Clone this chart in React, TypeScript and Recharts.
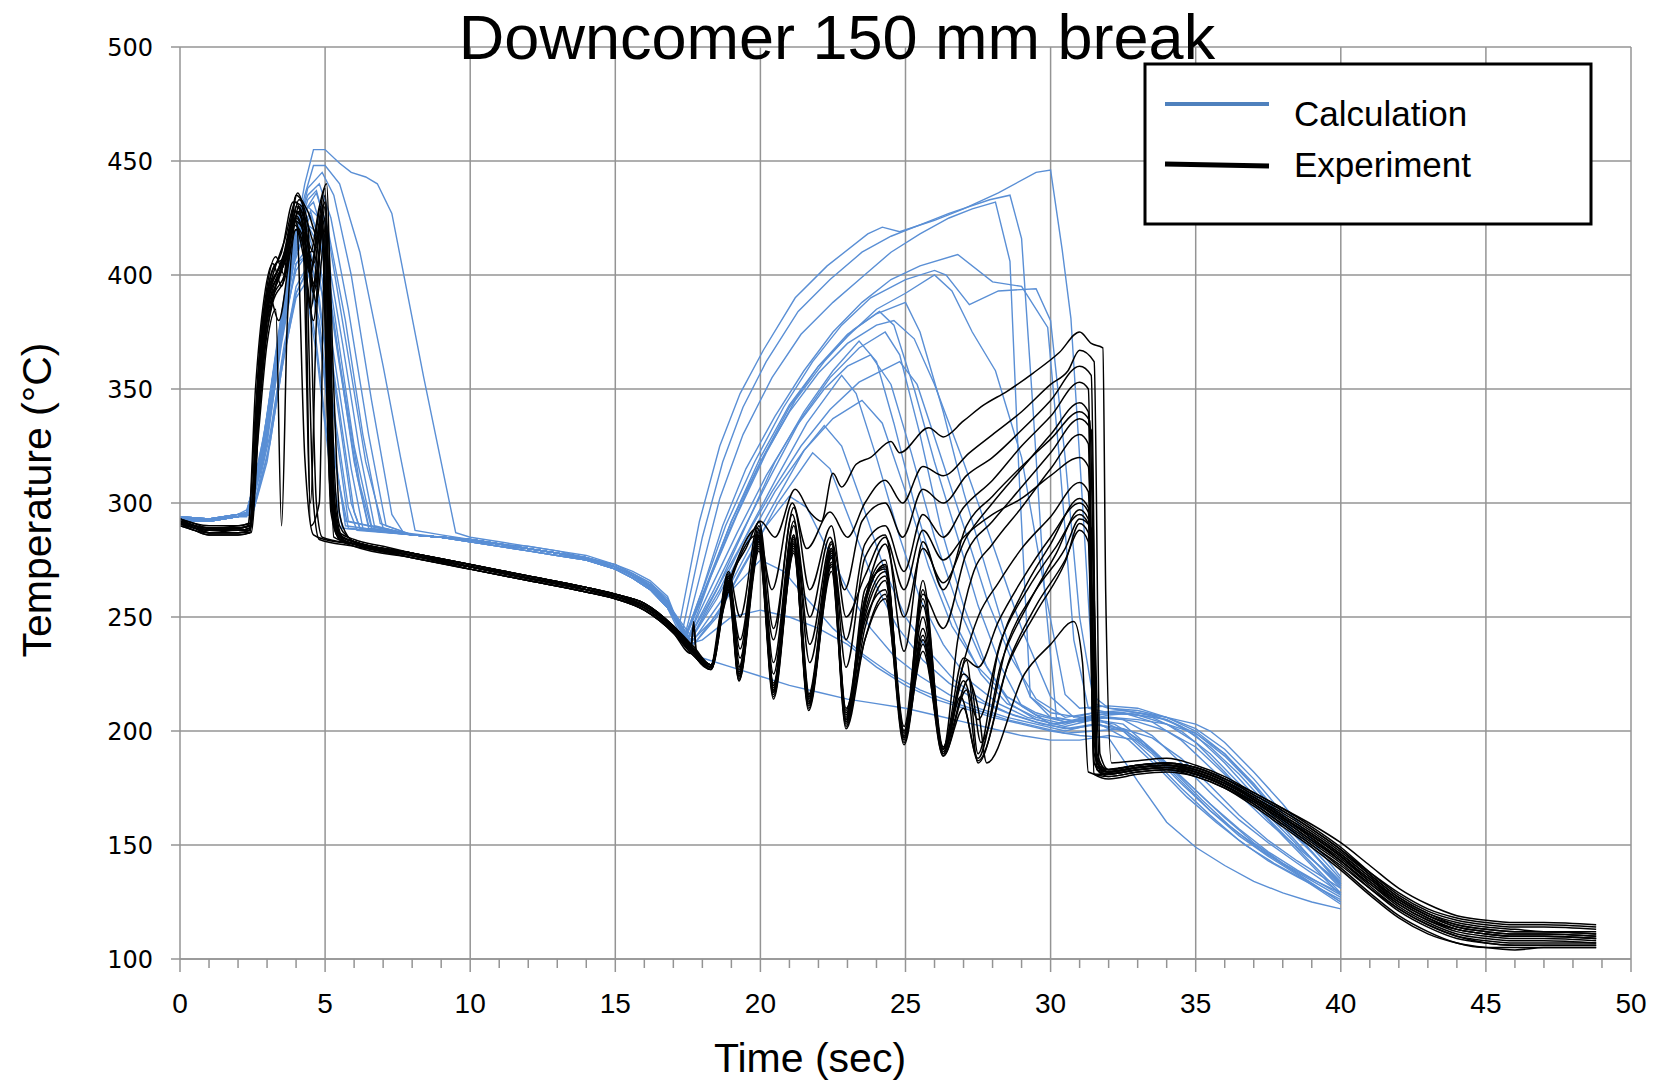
import React from "react";
import { LineChart, Line, XAxis, YAxis, CartesianGrid, ReferenceLine } from "recharts";

type Pt = [number, number];

// ---- Calculation (blue) curves, [time s, temperature °C]
const calc01: Pt[] = [[0,294],[1,293],[2,295],[2.3,297],[2.8,318],[3.3,360],[3.8,405],[4.3,440],[4.6,455],[5,455],[5.5,449],[5.9,445],[6.4,443],[6.8,440],[7.3,427],[8.4,355],[9.5,287],[10,285],[11,283],[12,281],[13,279],[14,277],[15,273],[15.6,270],[16.2,266],[16.8,259],[17.2,246],[17.9,292],[18.6,325],[19.3,348],[20.1,367],[21.2,390],[22.3,404],[23.7,418],[24.2,421],[24.8,419],[26,424],[27,429],[28.2,436],[29.5,445],[30,446],[30.4,411],[30.7,381],[31.1,300],[31.5,215],[32,210],[33,208],[34,206],[35,203],[35.5,200],[36,195],[37,182],[38,168],[39,152],[40,136]];
const calc02: Pt[] = [[0,293],[1,293],[2,294],[2.3,296],[2.8,320],[3.3,365],[3.8,408],[4.3,435],[4.6,448],[5,448],[5.5,440],[6.2,410],[7,360],[7.6,320],[8.1,288],[9,286],[10,284],[11,282],[12,280],[13,278],[14,276],[15,272],[15.6,269],[16.2,265],[16.8,258],[17.3,243],[18,285],[18.7,318],[19.4,342],[20.2,362],[21.3,384],[22.4,398],[23.5,410],[24.5,417],[25.5,422],[26.5,427],[27.9,433],[28.6,435],[29,416],[29.4,340],[29.8,260],[30.2,206],[31,204],[32,206],[33,205],[34,203],[35,199],[36,190],[37,177],[38,162],[39,147],[40,133]];
const calc03: Pt[] = [[0,293],[1,292],[2,294],[2.3,296],[2.9,325],[3.4,370],[3.9,410],[4.4,438],[4.9,445],[5.3,435],[5.9,400],[6.6,345],[7.3,295],[7.7,287],[9,285],[10,284],[11,282],[12,280],[13,278],[14,276],[15,273],[15.6,269],[16.2,264],[16.8,257],[17.4,242],[18,272],[18.6,302],[19.4,330],[20.4,355],[21.4,374],[22.5,388],[23.5,399],[24.5,410],[25.5,418],[26.5,425],[27.3,429],[28.1,432],[28.6,406],[28.9,316],[29.3,215],[30,208],[31,206],[32,206],[33,204],[34,200],[35,193],[36,181],[37,168],[38,155],[39,142],[40,129]];
const calc04: Pt[] = [[0,294],[1,293],[2,295],[2.3,295],[2.9,330],[3.4,375],[3.9,415],[4.4,435],[4.8,440],[5.2,425],[5.8,385],[6.5,330],[7.1,290],[8,286],[9,285],[10,284],[11,282],[12,280],[13,278],[14,276],[15,272],[15.6,268],[16.2,264],[16.8,256],[17.4,241],[18,262],[18.7,290],[19.5,315],[20.5,338],[21.5,358],[22.5,375],[23.5,388],[24.5,398],[25.5,404],[26.8,409],[28,397],[29,395],[29.9,377],[30.3,320],[30.8,240],[31.3,210],[32,208],[33,207],[34,205],[35,199],[36,189],[37,176],[38,161],[39,147],[40,133]];
const calc05: Pt[] = [[0,293],[1,293],[2,294],[2.3,295],[2.8,315],[3.3,355],[3.8,400],[4.3,428],[4.7,436],[5.1,420],[5.7,380],[6.3,330],[6.9,291],[8,286],[9,285],[10,284],[11,282],[12,281],[13,279],[14,276],[15,273],[15.6,269],[16.2,265],[16.8,257],[17.4,241],[18.1,265],[18.8,290],[19.8,318],[20.8,342],[21.8,362],[22.8,378],[23.8,390],[25,398],[26,402],[26.4,400],[27.2,387],[28.2,393],[29.5,394],[30,380],[30.5,320],[31,250],[31.5,212],[32,210],[33,209],[34,206],[35,201],[36,192],[37,179],[38,164],[39,149],[40,135]];
const calc06: Pt[] = [[0,294],[1,292],[2,294],[2.4,295],[2.9,325],[3.4,372],[3.9,412],[4.3,428],[4.6,432],[5,415],[5.6,370],[6.2,322],[6.7,290],[8,286],[9,285],[10,283],[11,282],[12,280],[13,278],[14,275],[15,272],[15.6,268],[16.2,263],[16.8,255],[17.4,240],[18.1,262],[19,292],[20,320],[21,343],[22,360],[23,373],[24,385],[25,392],[26,400],[26.6,393],[27.3,375],[28.1,358],[29,320],[29.8,262],[30.5,216],[31,210],[32,211],[33,210],[34,206],[35,200],[36,190],[37,176],[38,161],[39,147],[40,132]];
const calc07: Pt[] = [[0,293],[1,293],[2,295],[2.4,296],[3,335],[3.5,380],[4,415],[4.5,428],[4.9,410],[5.5,360],[6.1,312],[6.5,289],[8,286],[9,285],[10,284],[11,282],[12,280],[13,278],[14,276],[15,272],[15.6,268],[16.2,264],[16.8,256],[17.4,241],[18.2,265],[19,290],[20,318],[21,342],[22,360],[23,374],[24,383],[25,388],[25.5,375],[26.3,340],[27,305],[27.8,270],[28.5,240],[29.3,215],[30,206],[31,204],[32,207],[33,208],[34,205],[35,198],[36,186],[37,172],[38,158],[39,144],[40,131]];
const calc08: Pt[] = [[0,292],[1,292],[2,294],[2.3,294],[2.9,322],[3.4,368],[3.9,405],[4.3,424],[4.7,415],[5.3,365],[5.9,315],[6.3,289],[8,286],[9,285],[10,283],[11,281],[12,279],[13,277],[14,275],[15,271],[15.6,267],[16.2,262],[16.8,254],[17.5,240],[18.3,268],[19.2,295],[20.2,322],[21.2,345],[22.2,362],[23.2,376],[24.1,384],[24.6,378],[25.3,350],[26,318],[26.8,285],[27.5,255],[28.3,228],[29,211],[30,203],[31,205],[32,208],[33,207],[34,203],[35,195],[36,182],[37,168],[38,154],[39,141],[40,128]];
const calc09: Pt[] = [[0,293],[1,292],[2,294],[2.4,295],[3,330],[3.5,375],[4,410],[4.4,420],[4.8,400],[5.4,345],[5.9,300],[6.2,289],[8,286],[9,285],[10,284],[11,282],[12,280],[13,278],[14,275],[15,272],[15.6,268],[16.2,263],[16.8,255],[17.5,240],[18.4,262],[19.4,288],[20.4,313],[21.4,337],[22.4,355],[23.4,368],[24.3,375],[24.8,365],[25.5,330],[26.2,290],[27,255],[27.8,228],[28.6,212],[29.5,205],[30.5,202],[31.5,205],[32.5,203],[33.5,192],[34.5,180],[35.5,168],[36.5,157],[37.5,147],[38.5,139],[40,128]];
const calc10: Pt[] = [[0,294],[1,293],[2,295],[2.4,296],[3,338],[3.5,382],[4,410],[4.3,416],[4.7,395],[5.2,350],[5.8,298],[6.1,288],[8,286],[9,285],[10,284],[11,282],[12,280],[13,278],[14,276],[15,272],[15.6,268],[16.2,263],[16.8,256],[17.6,240],[18.5,262],[19.5,290],[20.5,318],[21.5,340],[22.5,358],[23.4,371],[24,362],[24.6,335],[25.3,300],[26,270],[26.8,245],[27.6,225],[28.5,212],[29.5,206],[30.5,203],[31.5,206],[32.5,200],[33.5,188],[34.5,175],[35.5,163],[36.5,152],[37.5,143],[38.5,136],[40,126]];
const calc11: Pt[] = [[0,293],[1,292],[2,294],[2.4,295],[2.9,320],[3.5,370],[4,405],[4.4,412],[4.8,390],[5.3,338],[5.8,292],[8,286],[9,285],[10,283],[11,281],[12,279],[13,277],[14,275],[15,271],[15.6,267],[16.2,262],[16.8,254],[17.6,240],[18.6,262],[19.6,288],[20.6,312],[21.6,335],[22.8,356],[23.3,348],[24,320],[24.8,285],[25.5,258],[26.3,238],[27.2,222],[28.2,212],[29.2,206],[30.2,203],[31.2,205],[32.2,203],[33.2,195],[34.2,183],[35.2,170],[36.2,158],[37.2,148],[38.2,140],[40,125]];
const calc12: Pt[] = [[0,294],[1,293],[2,295],[2.4,296],[3,330],[3.5,375],[4,402],[4.3,408],[4.7,385],[5.2,330],[5.7,292],[8,286],[9,285],[10,284],[11,282],[12,280],[13,278],[14,276],[15,272],[15.6,268],[16.2,264],[16.8,256],[17.7,240],[18.7,258],[19.7,282],[20.7,305],[21.5,323],[22.2,334],[22.8,325],[23.5,300],[24.3,270],[25,250],[25.8,235],[26.7,222],[27.7,213],[28.7,207],[29.7,203],[30.7,201],[31.7,203],[32.7,196],[33.7,184],[34.7,171],[35.7,160],[36.7,150],[37.7,142],[38.7,135],[40,124]];
const calc13: Pt[] = [[0,293],[1,292],[2,294],[2.5,295],[3,320],[3.5,360],[4,395],[4.4,404],[4.8,375],[5.3,320],[5.8,289],[8,286],[9,285],[10,283],[11,281],[12,280],[13,278],[14,275],[15,271],[15.6,267],[16.2,262],[16.8,254],[17.7,238],[18.5,250],[19.3,270],[20.2,290],[21,303],[21.6,298],[22.3,280],[23,262],[23.8,245],[24.6,233],[25.5,224],[26.5,216],[27.5,210],[28.5,206],[29.5,203],[30.5,200],[31.5,203],[32.5,200],[33.5,190],[34.5,177],[35.5,165],[36.5,155],[37.5,146],[38.5,138],[40,127]];
const calc14: Pt[] = [[0,294],[1,293],[2,295],[2.5,296],[3.1,330],[3.6,370],[4,392],[4.3,400],[4.7,370],[5.2,315],[5.6,289],[8,286],[9,285],[10,284],[11,282],[12,280],[13,278],[14,276],[15,272],[15.6,268],[16.2,263],[16.8,255],[17.5,238],[18,240],[18.5,245],[19,250],[20,253],[21,250],[22,245],[23,238],[24,228],[25,220],[26,214],[27,210],[28,206],[29,203],[30,200],[31,198],[32,197],[33,178],[34,160],[35,149],[36,141],[37,134],[38,129],[39,125],[40,122]];
const calc15: Pt[] = [[0,293],[1,292],[2,294],[2.4,296],[3,326],[3.5,372],[4,405],[4.5,410],[4.9,392],[5.5,340],[6,296],[6.2,289],[8,286],[9,285],[10,283],[11,281],[12,279],[13,277],[14,275],[15,271],[15.6,267],[16.2,262],[16.8,254],[17.4,238],[18,232],[19,228],[20,224],[21,220],[22,217],[23,214],[24,212],[25,210],[26,207],[27,204],[28,201],[29,198],[30,196],[31,196],[32,198],[33,196],[34,186],[35,174],[36,162],[37,151],[38,142],[39,135],[40,129]];
const calc16: Pt[] = [[0,294],[1,293],[2,294],[2.3,296],[2.8,322],[3.4,372],[3.9,410],[4.4,430],[4.8,425],[5.3,385],[6,325],[6.6,290],[8,286],[9,285],[10,284],[11,282],[12,280],[13,278],[14,276],[15,272],[15.6,268],[16.2,264],[16.8,256],[17.5,241],[18.3,263],[19.2,287],[20.2,312],[21.2,333],[22.2,350],[23,360],[23.8,365],[24.5,352],[25.2,322],[26,285],[26.8,255],[27.6,232],[28.5,215],[29.5,207],[30.5,204],[31.5,207],[32.5,208],[33.5,206],[34.5,200],[35.5,190],[36.5,177],[37.5,163],[38.5,150],[40,132]];
const calc17: Pt[] = [[0,293],[1,292],[2,294],[2.4,295],[2.9,328],[3.4,373],[3.9,411],[4.4,433],[4.7,437],[5.1,418],[5.7,372],[6.4,318],[7,289],[8,286],[9,285],[10,284],[11,282],[12,280],[13,278],[14,276],[15,272],[15.6,268],[16.2,264],[16.8,256],[17.4,241],[18.2,266],[19,292],[20,318],[21,340],[22,357],[23,370],[24,378],[24.6,380],[25.3,372],[26,352],[27,318],[28,282],[29,245],[30,215],[30.8,206],[31.5,208],[32.5,209],[33.5,207],[34.5,202],[35.5,193],[36.5,181],[37.5,167],[38.5,153],[40,134]];
const calc18: Pt[] = [[0,293],[1,293],[2,294],[2.4,295],[2.9,323],[3.4,366],[3.9,404],[4.4,422],[4.8,418],[5.4,370],[6,318],[6.5,290],[8,286],[9,285],[10,284],[11,282],[12,280],[13,278],[14,276],[15,272],[15.6,268],[16.2,263],[16.8,255],[17.6,240],[18.5,258],[19.5,282],[20.5,305],[21.5,323],[22.5,337],[23.5,345],[24.2,335],[25,305],[25.8,272],[26.6,246],[27.5,228],[28.5,215],[29.5,208],[30.5,204],[31.5,206],[32.5,205],[33.5,198],[34.5,186],[35.5,173],[36.5,161],[37.5,151],[38.5,142],[40,129]];
const calc19: Pt[] = [[0,294],[1,292],[2,294],[2.4,296],[3,332],[3.5,377],[4,413],[4.5,426],[4.9,415],[5.5,362],[6.2,308],[6.6,289],[8,286],[9,285],[10,284],[11,282],[12,280],[13,278],[14,275],[15,272],[15.6,268],[16.2,263],[16.8,255],[17.5,240],[18.4,260],[19.4,283],[20.4,305],[21.4,325],[22.4,341],[23.4,353],[24.8,362],[25.4,352],[26.1,325],[27,290],[27.8,258],[28.6,233],[29.5,214],[30.5,206],[31.5,208],[32.5,208],[33.5,204],[34.5,196],[35.5,184],[36.5,172],[37.5,160],[38.5,149],[40,133]];
const calc20: Pt[] = [[0,293],[1,292],[2,294],[2.5,295],[3,318],[3.5,358],[4,392],[4.4,402],[4.8,380],[5.3,325],[5.7,290],[8,286],[9,285],[10,283],[11,281],[12,279],[13,277],[14,275],[15,271],[15.6,267],[16.2,262],[16.8,254],[17.7,238],[18.6,253],[19.6,276],[20.6,300],[21.8,322],[22.4,315],[23.1,292],[23.9,266],[24.7,246],[25.6,231],[26.5,221],[27.5,213],[28.5,208],[29.5,204],[30.5,201],[31.5,203],[32.5,201],[33.5,191],[34.5,178],[35.5,165],[36.5,154],[37.5,145],[38.5,137],[40,125]];
const calc21: Pt[] = [[0,294],[1,293],[2,295],[2.5,296],[3.1,326],[3.6,366],[4,390],[4.3,396],[4.7,366],[5.2,312],[5.6,289],[8,286],[9,285],[10,284],[11,282],[12,280],[13,278],[14,276],[15,272],[15.6,268],[16.2,263],[16.8,255],[17.6,239],[18.3,248],[19.1,263],[20,275],[20.8,270],[21.6,258],[22.5,245],[23.5,234],[24.5,225],[25.5,218],[26.5,213],[27.5,209],[28.5,205],[29.5,202],[30.5,199],[31.5,200],[32.5,201],[33.5,197],[34.5,188],[35.5,176],[36.5,163],[37.5,152],[38.5,143],[40,131]];

// ---- Experiment (black) curves
const exp01: Pt[] = [[0,292],[0.5,290],[1,289],[2,289],[2.35,290],[2.6,340],[2.9,385],[3.2,400],[3.6,415],[4,432],[4.3,420],[4.6,410],[5,438],[5.2,330],[5.4,288],[6,284],[7,281],[8,278],[9,275],[10,272],[11,270],[12,267],[13,265],[14,262],[15,259],[16,255],[17,246],[17.7,237],[18.3,229],[18.6,250],[19,268],[19.5,280],[20,292],[20.5,285],[21.2,306],[21.7,296],[22.1,292],[22.5,313],[22.8,307],[23.3,317],[23.8,320],[24.5,327],[24.8,322],[25.8,333],[26.3,329],[27,336],[27.7,343],[28.5,349],[29.4,357],[30.3,366],[31,375],[31.4,370],[31.8,368],[31.9,260],[32.1,186],[33,187],[34,188],[35,185],[36,180],[37,173],[38,166],[39,158],[40,149],[41,138],[42,128],[43,121],[44,117],[45,115],[46,114],[47,114],[48.8,113]];
const exp02: Pt[] = [[0,293],[0.5,291],[1,290],[2,290],[2.35,291],[2.6,350],[2.9,390],[3.2,405],[3.5,395],[3.9,428],[4.2,425],[4.5,300],[4.7,380],[5,432],[5.3,290],[5.6,285],[6,283],[8,278],[10,273],[12,268],[14,263],[15,260],[16,256],[17,246],[17.7,236],[18.3,228],[18.7,255],[19.2,275],[19.9,289],[20.4,262],[21.1,300],[21.6,280],[22.4,296],[23,285],[23.6,300],[24.3,310],[24.9,300],[25.6,316],[26.3,312],[27.2,322],[28,330],[29,340],[30,352],[30.6,358],[31,367],[31.5,362],[31.7,190],[32,183],[33,185],[34,186],[35,184],[36,179],[37,173],[38,166],[39,159],[40,151],[41,141],[42,131],[43,124],[44,119],[45,117],[46,116],[47,116],[48.8,115]];
const exp03: Pt[] = [[0,291],[0.5,289],[1,287],[2,287],[2.4,288],[2.7,360],[3,395],[3.3,408],[3.6,400],[4,435],[4.4,428],[4.8,415],[5,430],[5.3,300],[5.6,284],[6,282],[8,277],[10,272],[12,267],[14,262],[15,259],[16,255],[17,245],[17.6,236],[17.7,248],[17.8,234],[18.3,228],[18.7,252],[19.1,270],[19.9,286],[20.45,240],[21.1,295],[21.7,250],[22.4,285],[22.9,262],[23.5,292],[24.3,300],[24.9,285],[25.6,306],[26.3,300],[27.1,312],[28,320],[29,332],[30,345],[31,360],[31.4,356],[31.6,190],[32,182],[33,184],[34,185],[35,183],[36,178],[37,171],[38,163],[39,155],[40,146],[41,136],[42,126],[43,119],[44,114],[45,112],[46,111],[47,111],[48.8,110]];
const exp04: Pt[] = [[0,292],[0.5,289],[1,288],[2,288],[2.4,288],[2.7,330],[3,370],[3.3,385],[3.5,290],[3.7,380],[4,420],[4.3,410],[4.5,290],[4.8,300],[5,420],[5.3,285],[6,282],[8,276],[10,271],[12,266],[14,261],[15,258],[16,254],[17,244],[17.7,234],[18.3,228],[18.9,265],[19.3,240],[19.95,288],[20.45,225],[21.15,290],[21.7,230],[22.45,280],[22.95,240],[23.6,282],[24.3,290],[24.95,270],[25.6,295],[26.3,285],[27,298],[28,310],[29,325],[30,338],[31,353],[31.3,350],[31.5,195],[31.8,182],[33,184],[34,185],[35,182],[36,177],[37,170],[38,162],[39,154],[40,145],[41,134],[42,125],[43,118],[44,113],[45,111],[46,110],[47,110],[48.8,109]];
const exp05: Pt[] = [[0,293],[0.5,290],[1,288],[2,289],[2.45,290],[2.8,360],[3.2,390],[3.6,400],[4,425],[4.3,320],[4.6,286],[5,284],[6,282],[8,277],[10,272],[12,267],[14,262],[15,259],[16,255],[17,245],[17.7,235],[18.3,229],[18.9,266],[19.3,232],[19.95,287],[20.45,220],[21.15,285],[21.7,215],[22.45,278],[22.95,210],[23.8,268],[24.3,282],[24.95,250],[25.6,280],[26.3,265],[27.1,285],[28,300],[29,315],[30,330],[31,344],[31.3,340],[31.5,190],[31.8,183],[33,185],[34,186],[35,183],[36,178],[37,171],[38,164],[39,156],[40,147],[41,137],[42,127],[43,120],[44,116],[45,114],[46,113],[47,112],[48.8,112]];
const exp06: Pt[] = [[0,291],[0.5,289],[1,287],[2,287],[2.4,287],[2.8,375],[3.1,395],[3.5,405],[3.9,425],[4.2,415],[4.5,400],[4.8,420],[5.1,418],[5.3,350],[5.5,295],[5.8,285],[6,283],[8,277],[10,272],[12,267],[14,262],[15,259],[16,254],[17,244],[17.7,234],[18.3,227],[18.9,268],[19.3,228],[19.95,286],[20.45,218],[21.15,286],[21.7,213],[22.45,279],[22.95,205],[23.5,250],[24.3,273],[24.95,200],[25.6,260],[26.3,245],[27.1,278],[28,292],[29,307],[30,322],[31,337],[31.4,332],[31.6,188],[32,183],[33,185],[34,186],[35,184],[36,179],[37,172],[38,165],[39,157],[40,148],[41,137],[42,127],[43,120],[44,115],[45,113],[46,112],[47,112],[48.8,111]];
const exp07: Pt[] = [[0,292],[0.5,290],[1,289],[2,290],[2.4,291],[2.7,345],[3,385],[3.4,398],[3.8,415],[4.1,428],[4.4,405],[4.7,395],[4.9,425],[5.2,310],[5.5,286],[6,283],[8,278],[10,273],[12,268],[14,263],[15,260],[16,256],[17,246],[17.7,236],[18.3,229],[18.9,267],[19.26,225],[19.95,285],[20.45,217],[21.15,283],[21.66,212],[22.45,277],[22.95,204],[23.6,262],[24.3,271],[24.95,198],[25.6,255],[26.3,192],[26.8,240],[27.3,268],[28,282],[29,298],[30,315],[31,330],[31.3,326],[31.5,186],[32,182],[33,184],[34,185],[35,183],[36,178],[37,170],[38,162],[39,153],[40,143],[41,132],[42,122],[43,115],[44,110],[45,107],[46,106],[47,106],[48.8,106]];
const exp08: Pt[] = [[0,292],[0.5,289],[1,288],[2,288],[2.4,289],[2.75,350],[3.1,392],[3.5,402],[3.9,422],[4.2,418],[4.5,385],[4.9,428],[5.1,405],[5.35,295],[5.6,284],[6,282],[8,277],[10,271],[12,266],[14,261],[15,258],[16,253],[17,243],[17.6,234],[17.7,246],[17.8,232],[18.3,227],[18.9,268],[19.26,222],[19.95,284],[20.45,216],[21.15,284],[21.66,211],[22.45,280],[22.95,203],[23.6,255],[24.3,273],[24.95,196],[25.6,266],[26.3,190],[27,230],[27.5,250],[28.2,265],[29,280],[30,294],[31,309],[31.3,305],[31.5,186],[31.8,181],[33,183],[34,184],[35,181],[36,176],[37,168],[38,159],[39,150],[40,140],[41,129],[42,119],[43,112],[44,107],[45,105],[46,105],[47,105],[48.8,105]];
const exp09: Pt[] = [[0,291],[0.5,289],[1,287],[2,287],[2.4,288],[2.7,335],[3,375],[3.3,395],[3.7,410],[4.05,436],[4.3,426],[4.6,392],[5,425],[5.25,300],[5.5,285],[6,282],[8,277],[10,272],[12,267],[14,262],[15,259],[16,255],[17,245],[17.7,235],[18.3,229],[18.9,267],[19.26,224],[19.95,286],[20.45,218],[21.15,286],[21.66,213],[22.45,282],[22.95,206],[23.6,258],[24.3,275],[24.95,197],[25.6,245],[26.3,192],[27.1,231],[27.5,190],[28.2,235],[29,260],[30,282],[31,302],[31.3,298],[31.6,184],[32,182],[33,184],[34,185],[35,182],[36,177],[37,170],[38,162],[39,154],[40,145],[41,135],[42,126],[43,119],[44,114],[45,112],[46,111],[47,111],[48.8,110]];
const exp10: Pt[] = [[0,292],[0.5,290],[1,288],[2,289],[2.4,290],[2.8,365],[3.1,390],[3.4,380],[3.8,410],[4.1,430],[4.4,415],[4.7,388],[5,418],[5.3,292],[5.6,285],[6,283],[8,278],[10,273],[12,268],[14,263],[15,260],[16,256],[17,246],[17.7,236],[18.3,229],[18.9,264],[19.26,226],[19.95,283],[20.45,219],[21.15,282],[21.66,214],[22.45,276],[22.95,207],[23.6,250],[24.3,268],[24.95,199],[25.6,250],[26.3,190],[26.9,215],[27.5,188],[28.3,230],[29.2,255],[30.2,278],[31,297],[31.3,293],[31.6,183],[32,181],[33,183],[34,184],[35,181],[36,176],[37,169],[38,161],[39,152],[40,143],[41,133],[42,124],[43,117],[44,112],[45,110],[46,109],[47,109],[48.8,108]];
const exp11: Pt[] = [[0,290],[0.5,288],[1,286],[2,286],[2.4,287],[2.7,340],[3,382],[3.3,398],[3.6,405],[4,428],[4.3,420],[4.6,300],[4.8,284],[6,281],[8,276],[10,271],[12,266],[14,261],[15,258],[16,253],[17,243],[17.7,233],[18.3,227],[18.9,262],[19.26,223],[19.95,281],[20.45,215],[21.15,280],[21.66,210],[22.45,274],[22.95,202],[23.6,245],[24.3,266],[24.95,195],[25.6,240],[26.3,192],[27.2,223],[27.6,195],[28.5,238],[29.5,262],[30.5,280],[31,293],[31.4,289],[31.7,182],[32,180],[33,182],[34,183],[35,180],[36,175],[37,168],[38,159],[39,150],[40,141],[41,131],[42,122],[43,115],[44,110],[45,108],[46,107],[47,107],[48.8,107]];
const exp12: Pt[] = [[0,293],[0.5,291],[1,289],[2,289],[2.4,290],[2.8,370],[3.1,398],[3.5,410],[3.9,432],[4.2,430],[4.5,410],[4.8,430],[5.05,440],[5.3,320],[5.5,290],[5.8,285],[6,283],[8,278],[10,272],[12,267],[14,262],[15,259],[16,254],[17,244],[17.7,234],[18.3,228],[18.9,266],[19.26,227],[19.95,282],[20.45,220],[21.15,281],[21.66,215],[22.45,273],[22.95,208],[23.6,248],[24.3,262],[24.95,200],[25.6,242],[26.3,189],[27,210],[27.5,187],[28.6,232],[29.5,255],[30.5,275],[31,288],[31.3,283],[31.5,181],[32,181],[33,183],[34,184],[35,182],[36,177],[37,170],[38,162],[39,153],[40,144],[41,134],[42,124],[43,117],[44,113],[45,111],[46,110],[47,110],[48.8,109]];
const exp13: Pt[] = [[0,291],[0.5,289],[1,287],[2,288],[2.4,288],[2.7,345],[3,388],[3.3,400],[3.7,412],[4,425],[4.3,418],[4.6,405],[5,432],[5.2,300],[5.5,284],[6,282],[8,277],[10,272],[12,267],[14,262],[15,259],[16,255],[17,245],[17.7,235],[18.3,228],[18.9,263],[19.26,225],[19.95,280],[20.45,218],[21.15,278],[21.66,212],[22.45,270],[22.95,205],[23.6,240],[24.3,258],[24.95,197],[25.6,235],[26.3,193],[27,225],[27.5,210],[27.8,186],[29.1,225],[30,238],[30.8,248],[31.1,230],[31.3,182],[32,180],[33,182],[34,183],[35,181],[36,176],[37,169],[38,160],[39,151],[40,142],[41,131],[42,121],[43,114],[44,109],[45,107],[46,106],[47,106],[48.8,106]];
const exp14: Pt[] = [[0,292],[0.5,290],[1,289],[2,289],[2.4,290],[2.7,355],[3,392],[3.3,405],[3.7,408],[4,430],[4.35,424],[4.7,412],[5,435],[5.3,305],[5.6,285],[6,283],[8,278],[10,273],[12,268],[14,263],[15,260],[16,256],[17,246],[17.7,236],[18.3,229],[18.9,270],[19.3,250],[19.95,292],[20.45,245],[21.15,298],[21.7,262],[22.45,290],[22.95,250],[23.6,268],[24.3,285],[24.95,262],[25.6,288],[26.3,275],[27,285],[28,295],[29,302],[30,312],[31,320],[31.3,316],[31.6,186],[32,183],[33,185],[34,186],[35,184],[36,179],[37,172],[38,165],[39,157],[40,148],[41,138],[42,129],[43,122],[44,118],[45,116],[46,115],[47,115],[48.8,114]];
const exp15: Pt[] = [[0,292],[0.5,290],[1,288],[2,288],[2.4,289],[2.75,352],[3.1,393],[3.4,403],[3.8,418],[4.1,433],[4.4,423],[4.7,300],[4.9,285],[6,282],[8,277],[10,272],[12,267],[14,262],[15,259],[16,255],[17,245],[17.7,235],[18.3,228],[18.9,269],[19.3,236],[19.95,290],[20.45,230],[21.15,292],[21.7,238],[22.45,283],[22.95,228],[23.6,276],[24.3,286],[24.95,235],[25.6,283],[26.3,262],[27.1,290],[28,303],[29,316],[30,328],[31,340],[31.35,336],[31.6,186],[32,182],[33,184],[34,185],[35,183],[36,178],[37,171],[38,163],[39,155],[40,146],[41,136],[42,126],[43,119],[44,115],[45,113],[46,112],[47,112],[48.8,111]];
const exp16: Pt[] = [[0,291],[0.5,288],[1,287],[2,287],[2.4,288],[2.7,338],[3,380],[3.3,396],[3.7,412],[4,426],[4.3,416],[4.6,395],[4.95,423],[5.25,298],[5.5,284],[6,282],[8,277],[10,272],[12,267],[14,262],[15,259],[16,254],[17,244],[17.7,234],[18.3,228],[18.9,265],[19.26,224],[19.95,283],[20.45,217],[21.15,282],[21.66,212],[22.45,276],[22.95,204],[23.6,252],[24.3,270],[24.95,197],[25.6,258],[26.3,191],[27,222],[27.5,205],[28.3,240],[29.2,262],[30.2,281],[31,295],[31.3,291],[31.6,183],[32,181],[33,183],[34,184],[35,181],[36,176],[37,169],[38,161],[39,152],[40,143],[41,133],[42,123],[43,116],[44,111],[45,109],[46,108],[47,108],[48.8,107]];
const exp17: Pt[] = [[0,292],[0.5,290],[1,288],[2,288],[2.4,289],[2.8,368],[3.1,392],[3.5,402],[3.9,424],[4.2,421],[4.5,402],[4.85,430],[5.15,310],[5.4,286],[6,283],[8,278],[10,273],[12,268],[14,263],[15,260],[16,255],[17,245],[17.7,235],[18.3,228],[18.9,266],[19.26,228],[19.95,285],[20.45,221],[21.15,285],[21.66,216],[22.45,279],[22.95,209],[23.6,258],[24.3,272],[24.95,202],[25.6,262],[26.3,193],[27,232],[27.5,228],[28.2,248],[29,266],[30,285],[31,300],[31.3,296],[31.6,184],[32,182],[33,184],[34,185],[35,182],[36,177],[37,170],[38,162],[39,154],[40,145],[41,135],[42,125],[43,118],[44,113],[45,111],[46,110],[47,110],[48.8,109]];
const exp18: Pt[] = [[0,290],[0.5,288],[1,286],[2,286],[2.45,287],[2.8,355],[3.2,388],[3.6,398],[4,420],[4.3,405],[4.6,380],[4.9,418],[5.2,296],[5.5,284],[6,281],[8,276],[10,271],[12,266],[14,261],[15,258],[16,253],[17,243],[17.7,233],[18.3,227],[18.9,261],[19.26,222],[19.95,279],[20.45,214],[21.15,279],[21.66,209],[22.45,272],[22.95,201],[23.6,240],[24.3,260],[24.95,194],[25.6,238],[26.3,189],[27.1,218],[27.5,186],[28.5,228],[29.5,252],[30.5,274],[31,291],[31.3,287],[31.5,181],[32,179],[33,181],[34,182],[35,180],[36,175],[37,167],[38,158],[39,149],[40,139],[41,128],[42,118],[43,111],[44,107],[45,105],[46,104],[47,105],[48.8,105]];

const calcSeries = [calc01, calc02, calc03, calc04, calc05, calc06, calc07, calc08, calc09, calc10, calc11, calc12, calc13, calc14, calc15, calc16, calc17, calc18, calc19, calc20, calc21];
const expSeries = [exp01, exp02, exp03, exp04, exp05, exp06, exp07, exp08, exp09, exp10, exp11, exp12, exp13, exp14, exp15, exp16, exp17, exp18];

const xMajorTicks = [0, 5, 10, 15, 20, 25, 30, 35, 40, 45, 50];
const xMinorTicks = [0,1,2,3,4,5,6,7,8,9,10,11,12,13,14,15,16,17,18,19,20,21,22,23,24,25,26,27,28,29,30,31,32,33,34,35,36,37,38,39,40,41,42,43,44,45,46,47,48,49,50];
const yTicks = [100, 150, 200, 250, 300, 350, 400, 450, 500];

const GRID = "#949494";
const BLUE = "#5a8fd5";

const rows = (pts: Pt[]) => pts.map(([t, v]) => ({ t, v }));

function TimeTick(props: any) {
  const { x, y, payload } = props;
  const major = payload.value % 5 === 0;
  return (
    <g>
      <line x1={x} y1={y} x2={x} y2={y + (major ? 13 : 9)} stroke={GRID} strokeWidth={1.5} />
      {major && (
        <text
          x={x}
          y={y + 54}
          textAnchor="middle"
          fontSize={28}
          fontFamily="'Liberation Sans Narrow', 'Arial Narrow', 'Liberation Sans', sans-serif"
          fill="#000"
        >
          {payload.value}
        </text>
      )}
    </g>
  );
}

export default function App() {
  return (
    <div style={{ position: "absolute", left: 0, top: 0, width: 1661, height: 1081, background: "#fff" }}>
      <LineChart width={1661} height={1081} margin={{ top: 47, right: 30, bottom: 62, left: 100 }}>
        <CartesianGrid vertical={false} stroke={GRID} strokeWidth={1.5} />
        <XAxis
          dataKey="t"
          type="number"
          domain={[0, 50]}
          allowDataOverflow
          ticks={xMinorTicks}
          interval={0}
          tick={<TimeTick />}
          tickLine={false}
          tickSize={0}
          tickMargin={0}
          height={60}
          axisLine={{ stroke: GRID, strokeWidth: 1.5 }}
        />
        <YAxis
          type="number"
          domain={[100, 500]}
          ticks={yTicks}
          interval={0}
          width={80}
          tickSize={9}
          tickMargin={18}
          tickLine={{ stroke: GRID, strokeWidth: 1.5 }}
          axisLine={{ stroke: GRID, strokeWidth: 1.5 }}
          tick={{ fill: "#000", fontSize: 24, fontFamily: "'DejaVu Sans', sans-serif" }}
        />
        {xMajorTicks.slice(1).map((v) => (
          <ReferenceLine key={v} x={v} stroke={GRID} strokeWidth={1.5} />
        ))}
        {calcSeries.map((s, i) => (
          <Line
            key={"c" + i}
            data={rows(s)}
            dataKey="v"
            type="linear"
            stroke={BLUE}
            strokeWidth={1.4}
            dot={false}
            isAnimationActive={false}
          />
        ))}
        {expSeries.map((s, i) => (
          <Line
            key={"e" + i}
            data={rows(s)}
            dataKey="v"
            type="monotone"
            stroke="#000"
            strokeWidth={1.5}
            dot={false}
            isAnimationActive={false}
          />
        ))}
      </LineChart>
      <svg
        width={1661}
        height={1081}
        style={{ position: "absolute", left: 0, top: 0, pointerEvents: "none" }}
        fontFamily="'Liberation Sans', Arial, sans-serif"
      >
        <text x={837} y={59} textAnchor="middle" fontSize={63} fill="#000">
          Downcomer 150 mm break
        </text>
        <text x={810} y={1072} textAnchor="middle" fontSize={41} fill="#000">
          Time (sec)
        </text>
        <text
          x={37}
          y={500}
          textAnchor="middle"
          dominantBaseline="central"
          fontSize={41}
          fill="#000"
          transform="rotate(-90 37 500)"
        >
          Temperature (°C)
        </text>
        <rect x={1145} y={64} width={446} height={160} fill="#fff" stroke="#000" strokeWidth={3} />
        <line x1={1165} y1={104} x2={1269} y2={104} stroke="#4f81bd" strokeWidth={4} />
        <line x1={1165} y1={164} x2={1269} y2={166} stroke="#000" strokeWidth={5} />
        <text x={1294} y={126} fontSize={35} fill="#000">Calculation</text>
        <text x={1294} y={177} fontSize={35} fill="#000">Experiment</text>
      </svg>
    </div>
  );
}
